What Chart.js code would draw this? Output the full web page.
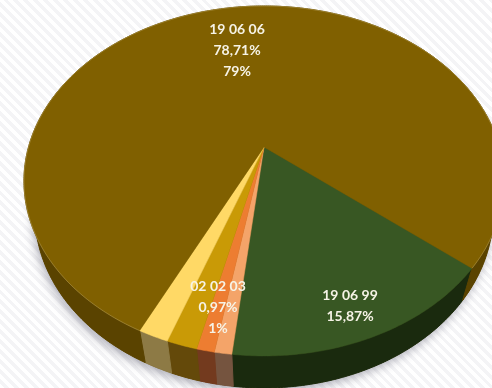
<!DOCTYPE html>
<html>
<head>
<meta charset="utf-8">
<style>
html, body { margin: 0; padding: 0; width: 492px; height: 388px; overflow: hidden; }
body { background: repeating-linear-gradient(45deg, #ffffff 0 3.5px, #f4f4f6 3.5px 7px); }
#wrap { position: absolute; left: 0; top: 0; width: 492px; height: 388px; }
</style>
<script src="https://cdn.jsdelivr.net/npm/chart.js@4"></script>
</head>
<body>
<div id="wrap"><canvas id="pieChart" width="492" height="388"></canvas></div>
<script>
const categories = ['19 06 99', '02 02 03', 'Other A', 'Other B', 'Other C', '19 06 06'];
const shares = [15.87, 0.97, 1.0, 1.72, 1.73, 78.71];
const topColors = ['#385723', '#f4a469', '#ed7d31', '#c99a06', '#ffd966', '#806000'];
const sideColors = ['#1a2a0e', '#75543f', '#733a1e', '#64490a', '#8d7a45', '#5a4300'];
const sliceLabels = [
    ['19 06 99', '15,87%'],
    ['02 02 03', '0,97%', '1%'],
    null,
    null,
    null,
    ['19 06 06', '78,71%', '79%']
];
const labelAnchors = [[350, 295], [218, 286], null, null, null, [237, 29]];

// tilted pie: unit circle goes through a small perspective map
const apexX = 264, apexY = 147, tilt = -0.194, spanX = 235.5, spanY = 168.4;
const depth = 32, bottomScale = 0.955;

function project(angle, scale, drop) {
    const u = Math.cos(angle), v = Math.sin(angle);
    const w = 1 + tilt * v;
    return [apexX + spanX * scale * u / w, apexY + drop + spanY * v / w];
}

function arcPoints(start, end, scale, drop) {
    const pts = [];
    const steps = Math.max(2, Math.ceil((end - start) / 0.01));
    for (let i = 0; i <= steps; i++) {
        pts.push(project(start + (end - start) * i / steps, scale, drop));
    }
    return pts;
}

function tracePath(ctx, pts) {
    ctx.beginPath();
    pts.forEach((p, i) => i ? ctx.lineTo(p[0], p[1]) : ctx.moveTo(p[0], p[1]));
    ctx.closePath();
}

const tiltedPie = {
    id: 'tiltedPie',
    beforeDatasetsDraw(chart) {
        const ctx = chart.ctx;
        const arcs = chart.getDatasetMeta(0).data;
        ctx.save();

        // soft shadow under the disc
        ctx.save();
        ctx.shadowColor = 'rgba(80,80,100,0.45)';
        ctx.shadowBlur = 10;
        ctx.shadowOffsetX = -2;
        ctx.shadowOffsetY = 4;
        ctx.fillStyle = '#5a4300';
        tracePath(ctx, arcPoints(0, Math.PI * 2, bottomScale, depth));
        ctx.fill();
        ctx.restore();

        // side walls first, the top face covers whatever faces away
        arcs.forEach((arc, i) => {
            const outerTop = arcPoints(arc.startAngle, arc.endAngle, 1, 0);
            const outerLow = arcPoints(arc.startAngle, arc.endAngle, bottomScale, depth).reverse();
            tracePath(ctx, outerTop.concat(outerLow));
            ctx.fillStyle = sideColors[i];
            ctx.strokeStyle = sideColors[i];
            ctx.fill();
            ctx.stroke();
        });

        // top face
        arcs.forEach((arc, i) => {
            tracePath(ctx, [[apexX, apexY]].concat(arcPoints(arc.startAngle, arc.endAngle, 1, 0)));
            ctx.fillStyle = topColors[i];
            ctx.strokeStyle = topColors[i];
            ctx.lineWidth = 0.5;
            ctx.fill();
            ctx.stroke();
        });

        // faint bevel along the rim of the largest slice
        const big = arcs[arcs.length - 1];
        const rim = arcPoints(big.startAngle, big.endAngle, 1, 0);
        ctx.beginPath();
        rim.forEach((p, i) => i ? ctx.lineTo(p[0], p[1]) : ctx.moveTo(p[0], p[1]));
        ctx.strokeStyle = 'rgba(240,222,160,0.28)';
        ctx.lineWidth = 1;
        ctx.stroke();

        // labels
        ctx.font = '700 14px Lato';
        ctx.fillStyle = '#f6f3e6';
        ctx.textAlign = 'center';
        ctx.textBaseline = 'middle';
        sliceLabels.forEach((lines, i) => {
            if (!lines) return;
            lines.forEach((line, k) => {
                ctx.fillText(line, labelAnchors[i][0], labelAnchors[i][1] + k * 21);
            });
        });

        ctx.restore();
        return false;
    }
};

const ctx = document.getElementById('pieChart').getContext('2d');
const chart = new Chart(ctx, {
    type: 'pie',
    data: {
        labels: categories,
        datasets: [
            {
                data: shares,
                backgroundColor: topColors,
                borderWidth: 0
            }
        ]
    },
    options: {
        responsive: false,
        animation: false,
        rotation: 129.2,
        plugins: {
            legend: { display: false },
            tooltip: { enabled: false }
        }
    },
    plugins: [tiltedPie]
});
</script>
</body>
</html>
